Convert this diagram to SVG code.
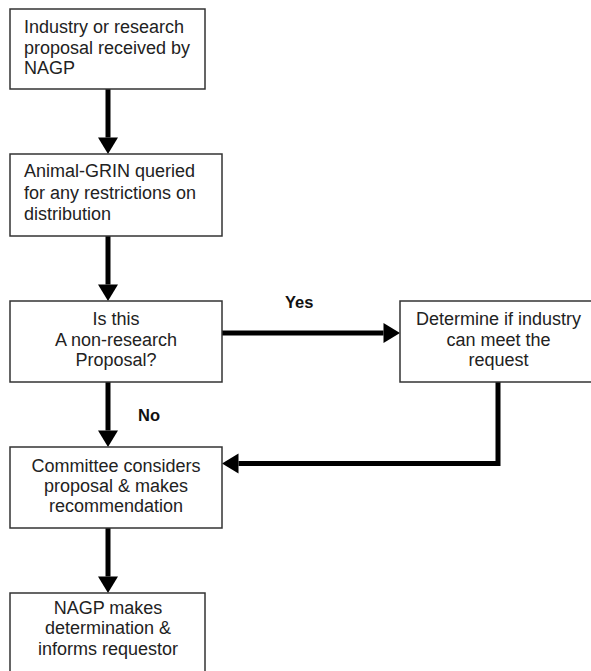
<svg xmlns="http://www.w3.org/2000/svg" width="591" height="671" viewBox="0 0 591 671">
<style>
.box{fill:#fff;stroke:#333;stroke-width:1.5}
.t{font-family:"Liberation Sans",Arial,sans-serif;font-size:18px;fill:#222}
.c{text-anchor:middle}
.lbl{font-family:"Liberation Sans",Arial,sans-serif;font-size:16.5px;font-weight:bold;fill:#111}
.conn{fill:none;stroke:#000;stroke-width:5;stroke-linejoin:miter}
</style>
<defs>
<marker id="ah" markerUnits="userSpaceOnUse" markerWidth="17" markerHeight="20" refX="0" refY="10" orient="auto" viewBox="0 0 17 20" overflow="visible">
<path d="M0,0 L16.5,10 L0,20 z" fill="#000"/>
</marker>
</defs>
<rect width="591" height="671" fill="#fff"/>
<g id="connectors">
<line class="conn" x1="108" y1="89" x2="108" y2="137.5" marker-end="url(#ah)"/>
<line class="conn" x1="108" y1="236" x2="108" y2="284.5" marker-end="url(#ah)"/>
<line class="conn" x1="108" y1="382" x2="108" y2="430.5" marker-end="url(#ah)"/>
<line class="conn" x1="108" y1="528" x2="108" y2="576.5" marker-end="url(#ah)"/>
<line class="conn" x1="222" y1="333" x2="383.5" y2="333" marker-end="url(#ah)"/>
<polyline class="conn" points="498,382 498,463.5 238.5,463.5" marker-end="url(#ah)"/>
<text class="lbl" x="285" y="308">Yes</text>
<text class="lbl" x="138" y="421">No</text>
</g>
<g id="n1">
<rect class="box" x="10" y="9" width="195" height="80"/>
<text class="t" x="24" y="33">Industry or research</text>
<text class="t" x="24" y="53.5">proposal received by</text>
<text class="t" x="24" y="74">NAGP</text>
</g>
<g id="n2">
<rect class="box" x="10" y="154" width="212" height="82"/>
<text class="t" x="24" y="177">Animal-GRIN queried</text>
<text class="t" x="24" y="198.5">for any restrictions on</text>
<text class="t" x="24" y="220">distribution</text>
</g>
<g id="n3">
<rect class="box" x="10" y="301" width="212" height="81"/>
<text class="t c" x="116" y="325">Is this</text>
<text class="t c" x="116" y="346">A non-research</text>
<text class="t c" x="116" y="366">Proposal?</text>
</g>
<g id="n4">
<rect class="box" x="400" y="301" width="200" height="81"/>
<text class="t c" x="498.5" y="325">Determine if industry</text>
<text class="t c" x="498.5" y="346">can meet the</text>
<text class="t c" x="498.5" y="366">request</text>
</g>
<g id="n5">
<rect class="box" x="10" y="447" width="212" height="81"/>
<text class="t c" x="116" y="472">Committee considers</text>
<text class="t c" x="116" y="492">proposal &amp; makes</text>
<text class="t c" x="116" y="512">recommendation</text>
</g>
<g id="n6">
<rect class="box" x="10" y="593" width="195" height="90"/>
<text class="t c" x="108" y="614">NAGP makes</text>
<text class="t c" x="108" y="634">determination &amp;</text>
<text class="t c" x="108" y="655">informs requestor</text>
</g>
</svg>
